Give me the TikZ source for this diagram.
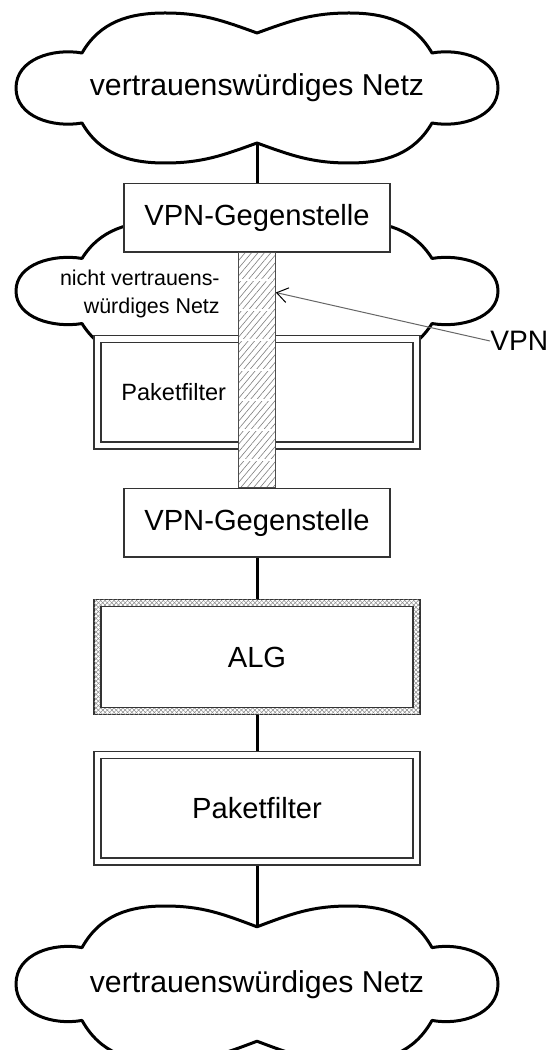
\documentclass[tikz,border=0pt]{standalone}
\usepackage{fontspec}
\setmainfont{Liberation Sans}
\usetikzlibrary{positioning,arrows.meta,patterns.meta,backgrounds,fit,calc}

\tikzset{
    % Wolke mit sechs Bögen
    netz/.pic={
        \draw[netz line] (0,55) to[out=160,in=0] (-92,75) to[out=180,in=60] (-175,35)
            to[out=170,in=90] (-241,0) to[out=-90,in=190] (-175,-35)
            to[out=-60,in=180] (-92,-75) to[out=0,in=200] (0,-55)
            to[out=-20,in=180] (92,-75) to[out=0,in=240] (175,-35)
            to[out=-10,in=-90] (241,0) to[out=90,in=10] (175,35)
            to[out=120,in=0] (92,75) to[out=180,in=20] cycle;
        \coordinate (-oben) at (0,55);
        \coordinate (-unten) at (0,-55);
    },
    netz line/.style={
        line width=0.06cm,
        draw=black,
        fill=white,
        line join=round
    },
    netz text/.style={
        inner sep=0pt,
        font=\fontsize{17.2}{20}\selectfont
    },
    netz small/.style={
        inner sep=0pt,
        align=right,
        font=\fontsize{12.2}{15.9}\selectfont
    },
    % Kästen
    gegenstelle/.style={
        rectangle,
        draw=black!80,
        line width=0.026cm,
        fill=white,
        minimum width=5.32cm,
        minimum height=1.37cm,
        inner sep=0pt,
        font=\fontsize{16.6}{20}\selectfont
    },
    filter/.style={
        rectangle,
        draw=black!80,
        line width=0.026cm,
        double=white,
        double distance=0.114cm,
        fill=white,
        minimum width=6.38cm,
        minimum height=2.13cm,
        inner sep=0pt,
        font=\fontsize{16.6}{20}\selectfont
    },
    filter label/.style={
        inner sep=0pt,
        font=\fontsize{13.4}{16}\selectfont
    },
    gateway/.style={
        rectangle,
        draw=black!80,
        line width=0.026cm,
        preaction={fill=white},
        pattern={Lines[angle=45,distance=1.8pt,line width=0.3pt]},
        pattern color=black!45,
        postaction={pattern={Lines[angle=-45,distance=1.8pt,line width=0.3pt]}, pattern color=black!45},
        minimum width=6.52cm,
        minimum height=2.3cm
    },
    gateway inner/.style={
        rectangle,
        draw=black!80,
        line width=0.026cm,
        fill=white,
        minimum width=6.24cm,
        minimum height=2.02cm,
        inner sep=0pt,
        font=\fontsize{16.6}{20}\selectfont
    },
    tunnel/.style={
        rectangle,
        draw=black!70,
        line width=0.026cm,
        preaction={fill=white},
        pattern={Lines[angle=50,distance=2.8pt,line width=0.35pt]},
        pattern color=black!50,
        inner xsep=0.37cm,
        inner ysep=0pt
    },
    link/.style={
        line width=0.06cm,
        draw=black
    },
    vpn pfeil/.style={
        draw=black!60,
        line width=0.02cm,
        -{Straight Barb[length=0.22cm,width=0.3cm,black]}
    },
    vpn label/.style={
        inner sep=0pt,
        font=\fontsize{16}{19}\selectfont
    }
}

\begin{document}
\begin{tikzpicture}[x=0.02cm, y=0.02cm]
    \clip (0,0) rectangle (550,-1050);

    % Netze
    \pic (wolkeA) at (257,-88) {netz};
    \node[netz text] (trustA) at (257,-88) {vertrauenswürdiges Netz};
    \pic[yscale=0.93] (wolkeB) at (257,-291) {netz};
    \node[netz small, anchor=east] (untrust) at (220,-294) {nicht vertrauens-\\würdiges Netz};
    \pic[yscale=1.04] (wolkeC) at (257,-984) {netz};
    \node[netz text] (trustB) at (257,-985) {vertrauenswürdiges Netz};

    % Kette
    \node[gegenstelle, below=0.8cm of wolkeA-unten] (vpnA) {VPN-Gegenstelle};
    \node[filter, below=1.71cm of vpnA] (pfA) {};
    \node[filter label] (pfAlabel) at ($(pfA.west)!0.24!(pfA.east)$) {Paketfilter};
    \node[gegenstelle, below=4.7cm of vpnA] (vpnB) {VPN-Gegenstelle};
    \node[gateway, below=0.84cm of vpnB] (algframe) {};
    \node[gateway inner] (alg) at (algframe) {ALG};
    \node[filter, below=0.79cm of algframe] (pfB) {Paketfilter};

    % VPN-Tunnel
    \node[tunnel, fit=(vpnA.south) (vpnB.north)] (tunnel) {};
    \foreach \k in {0,...,6}
        \draw[white, line width=0.04cm] ($(tunnel.north west)+(2,-28-30*\k)$) -- ++(33,0);
    \node[vpn label, anchor=west] (vpnlabel) at (490,-341) {VPN};
    \coordinate (tunnelhit) at ($(tunnel.north east)!0.17!(tunnel.south east)$);
    \draw[vpn pfeil] (vpnlabel.west) -- (tunnelhit);

    % Verbindungen
    \begin{scope}[on background layer]
        \draw[link] (wolkeA-unten) -- (vpnA);
        \draw[link] (vpnB) -- (algframe);
        \draw[link] (algframe) -- (pfB);
        \draw[link] (pfB) -- (wolkeC-oben);
    \end{scope}
\end{tikzpicture}
\end{document}
